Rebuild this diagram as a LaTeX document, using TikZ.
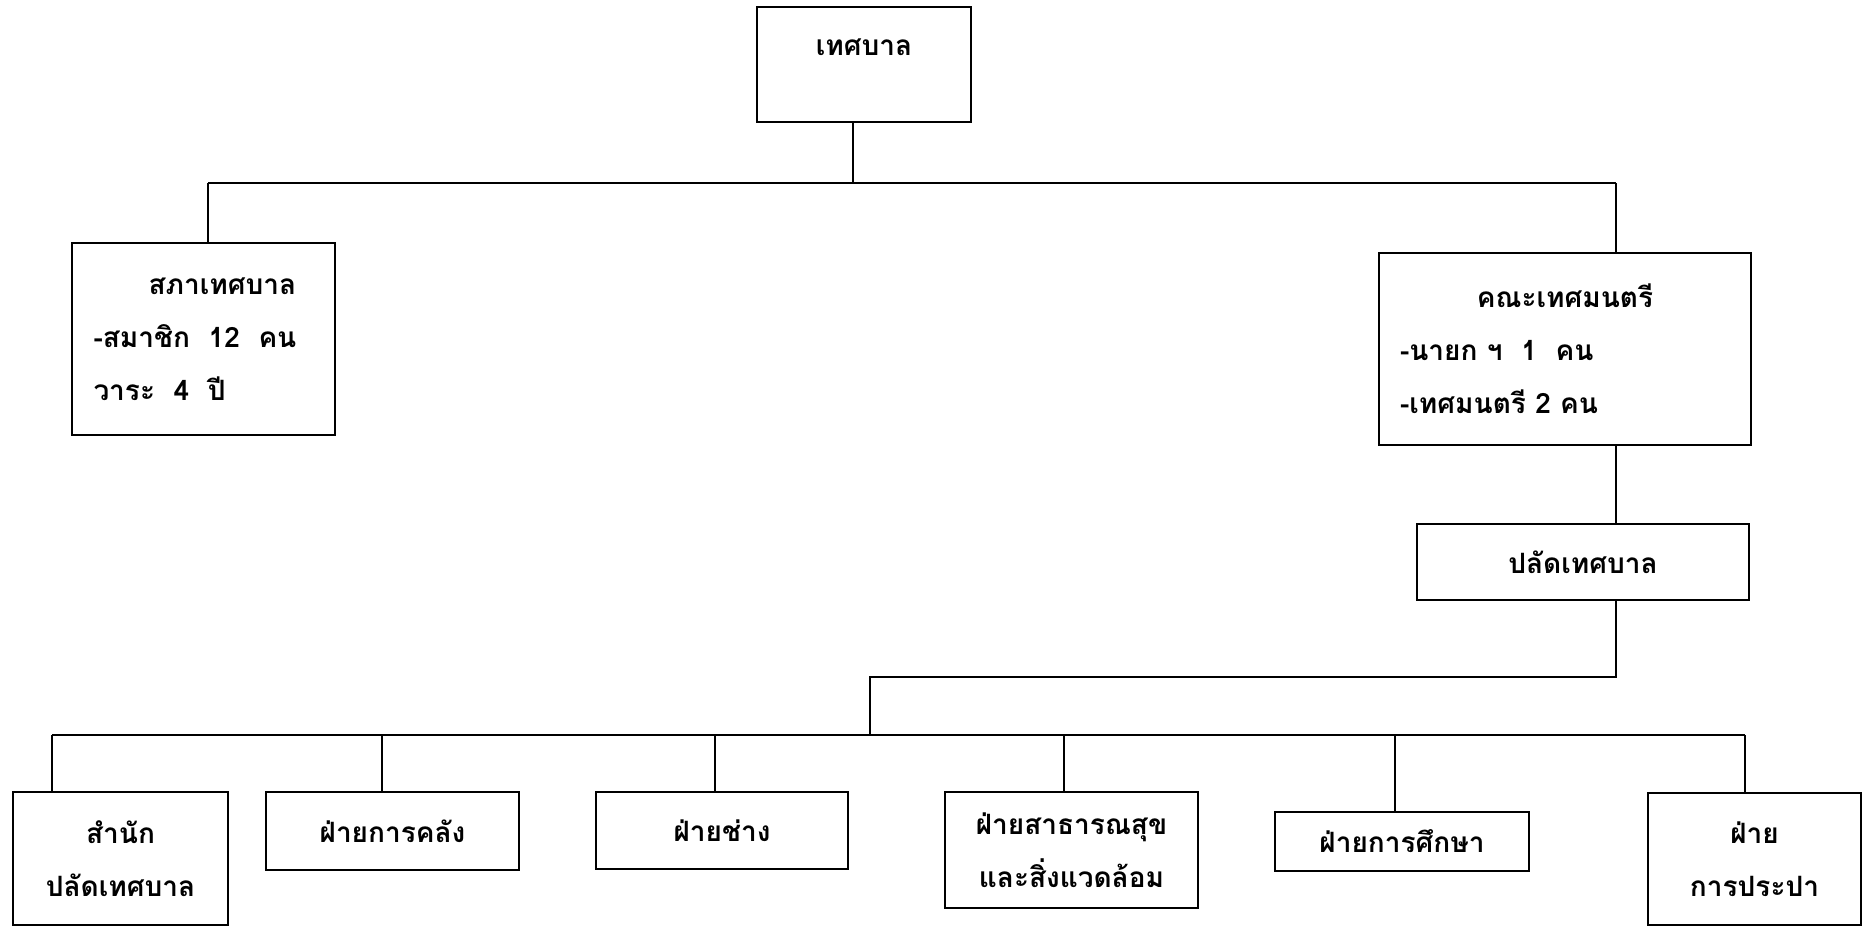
\documentclass[tikz,border=0pt]{standalone}
\usepackage{fontspec}
\newfontfamily\thaifont[Script=Thai]{Loma}

\tikzset{
  orgbox/.style={draw, line width=2.2pt, inner sep=0pt, align=center,
    font=\thaifont\bfseries\fontsize{28}{53}\selectfont},
  link/.style={line width=2.2pt},
}

\begin{document}
\begin{tikzpicture}[x=1pt, y=-1pt]
    \useasboundingbox (0,0) rectangle (1863,926);
    \node[orgbox, minimum width=214, minimum height=115] (top) at (864,64.5) {};
    \node[orgbox, draw=none] (toptext) at (864,47) {เทศบาล};
    \node[orgbox, minimum width=263, minimum height=192, text width=220, align=left] (sapha) at (203.5,339)
        {\hspace*{55pt}สภาเทศบาล\\-สมาชิก~~12~~คน\\วาระ~~4~~ปี};
    \node[orgbox, minimum width=372, minimum height=192, text width=330, align=left] (khana) at (1565,349)
        {\makebox[330pt][c]{คณะเทศมนตรี}\\-นายก ฯ~~1~~คน\\-เทศมนตรี 2 คน};
    \node[orgbox, minimum width=332, minimum height=76] (palad) at (1583,562) {ปลัดเทศบาล};
    \node[orgbox, minimum width=215, minimum height=133] (office) at (120.5,858.5) {สำนัก\\ปลัดเทศบาล};
    \node[orgbox, minimum width=253, minimum height=78] (finance) at (392.5,831) {ฝ่ายการคลัง};
    \node[orgbox, minimum width=252, minimum height=77] (works) at (722,830.5) {ฝ่ายช่าง};
    \node[orgbox, minimum width=253, minimum height=116] (health) at (1071.5,850) {ฝ่ายสาธารณสุข\\และสิ่งแวดล้อม};
    \node[orgbox, minimum width=254, minimum height=59] (educ) at (1402,841.5) {ฝ่ายการศึกษา};
    \node[orgbox, minimum width=213, minimum height=132] (water) at (1754.5,859) {ฝ่าย\\การประปา};

    \coordinate (busL) at (208,183);
    \coordinate (busR) at (1616,183);
    \coordinate (busT) at (853,183);
    \coordinate (midL) at (870,677);
    \coordinate (lowL) at (52,735);
    \coordinate (lowR) at (1745,735);

    \draw[link] (busL) -- (busR);
    \draw[link] (busT) -- (busT |- top.south);
    \draw[link] (busL) -- (busL |- sapha.north);
    \draw[link] (busR) -- (busR |- khana.north);
    \draw[link] (khana.south -| busR) -- (palad.north -| busR);
    \draw[link] (palad.south -| busR) |- (midL) -- (midL |- lowL);
    \draw[link] (lowL) -- (lowR);
    \foreach \n/\x in {office/52, finance/382, works/715, health/1064, educ/1395, water/1745}
        \draw[link] (\x,0 |- lowL) -- (\x,0 |- \n.north);
\end{tikzpicture}
\end{document}
